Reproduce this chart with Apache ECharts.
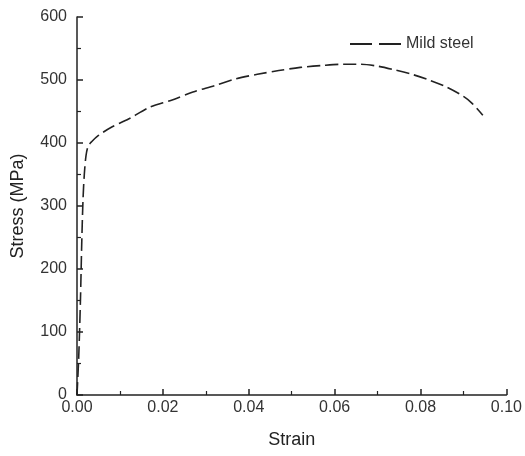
<!DOCTYPE html>
<html><head><meta charset="utf-8">
<script src="https://cdn.jsdelivr.net/npm/echarts@6/dist/echarts.min.js"></script>
<style>html,body{margin:0;padding:0;background:#fff}#c{width:525px;height:456px}</style>
</head><body><div id="c"></div>
<script>
const strain = [0, 0.0004, 0.0008, 0.0011, 0.0014, 0.0017, 0.0021, 0.0026, 0.0034, 0.005, 0.008, 0.012, 0.017, 0.022, 0.027, 0.032, 0.037, 0.042, 0.047, 0.052, 0.057, 0.062, 0.066, 0.070, 0.074, 0.078, 0.082, 0.086, 0.090, 0.092, 0.0945];
const stress = [0, 60, 150, 240, 310, 350, 380, 395, 402, 412, 425, 438, 457, 468, 481, 491, 502, 509, 515, 520, 523, 525, 525, 522, 516, 509, 500, 489, 474, 463, 444];
const seriesName = 'Mild steel';
const xTicks = [0, 0.02, 0.04, 0.06, 0.08, 0.10];
const yTicks = [0, 100, 200, 300, 400, 500, 600];

const chart = echarts.init(document.getElementById('c'), null, {renderer: 'canvas'});
const font = 'Liberation Sans, Arial, sans-serif';
const axisCommon = {
  axisLine: {show: true, lineStyle: {color: '#222', width: 1.5}},
  axisTick: {show: true, inside: true, length: 6, lineStyle: {color: '#222', width: 1.5}},
  minorTick: {show: true, splitNumber: 2, length: 4, lineStyle: {color: '#222', width: 1.2}},
  splitLine: {show: false},
  axisLabel: {color: '#333', fontSize: 16, fontFamily: font},
  nameTextStyle: {color: '#222', fontSize: 18, fontFamily: font}
};
chart.setOption({
  animation: false,
  grid: {left: 77, right: 15, top: 17, bottom: 61, containLabel: false},
  legend: {
    data: [{name: seriesName, icon: 'path://M0,0h22v2h-22z M29,0h22v2h-22z'}],
    top: 31, left: 345, itemWidth: 51, itemHeight: 2, itemGap: 14,
    itemStyle: {color: '#222', borderWidth: 0},
    textStyle: {color: '#333', fontSize: 16, fontFamily: font}
  },
  xAxis: Object.assign({}, axisCommon, {
    type: 'value', min: xTicks[0], max: xTicks[xTicks.length - 1], interval: 0.02,
    name: 'Strain', nameLocation: 'middle', nameGap: 36,
    axisLabel: Object.assign({}, axisCommon.axisLabel, {margin: 5, formatter: v => v.toFixed(2)})
  }),
  yAxis: Object.assign({}, axisCommon, {
    type: 'value', min: yTicks[0], max: yTicks[yTicks.length - 1], interval: 100,
    name: 'Stress (MPa)', nameLocation: 'middle', nameGap: 50, nameRotate: 90,
    axisLabel: Object.assign({}, axisCommon.axisLabel, {margin: 10})
  }),
  series: [{
    name: seriesName, type: 'line', symbol: 'none', showSymbol: false, smooth: 0.3,
    data: strain.map((s, i) => [s, stress[i]]),
    lineStyle: {color: '#222', width: 1.6, type: [13, 5]},
    itemStyle: {color: '#222'}
  }]
});
</script></body></html>
